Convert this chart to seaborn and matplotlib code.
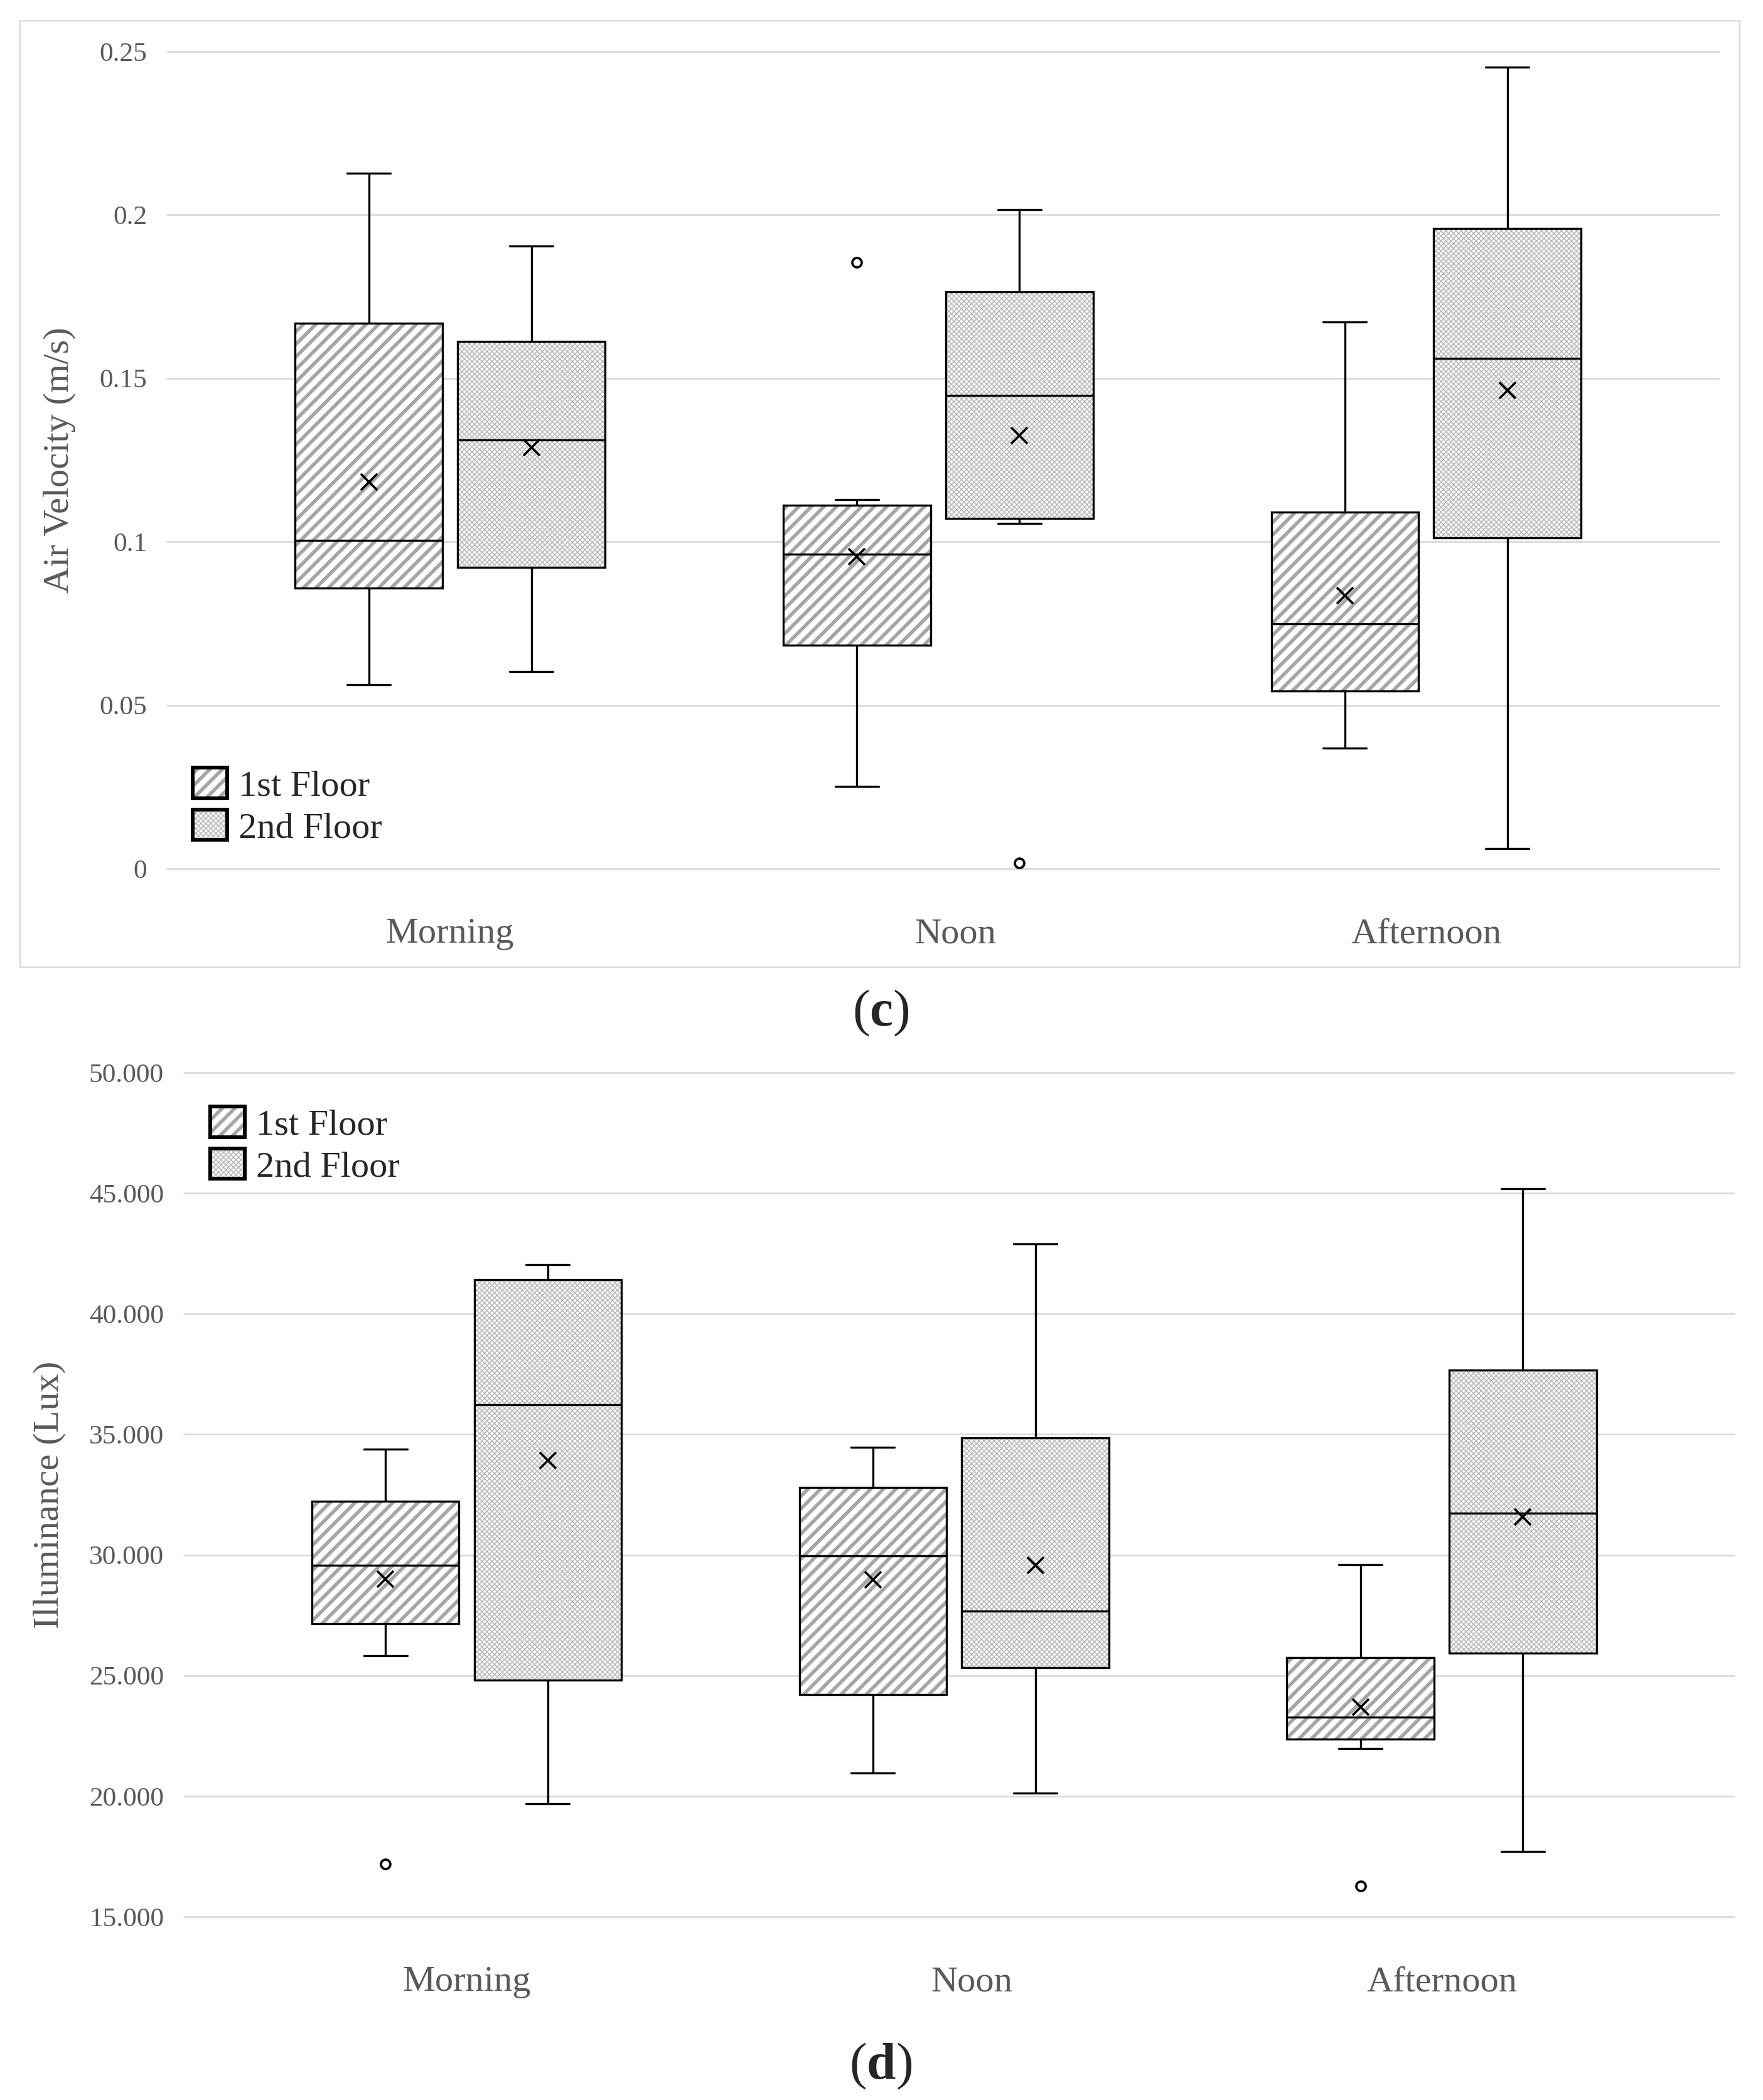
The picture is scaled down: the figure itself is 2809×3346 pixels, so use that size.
import matplotlib
matplotlib.use("Agg")
import matplotlib.pyplot as plt
import numpy as np
import pandas as pd
import seaborn as sns
from matplotlib.patches import Patch, PathPatch, Rectangle
from matplotlib.legend_handler import HandlerTuple
from matplotlib.ticker import FixedLocator, FuncFormatter
from matplotlib.transforms import ScaledTranslation

PERIODS = ["Morning", "Noon", "Afternoon"]
FLOORS = ["1st Floor", "2nd Floor"]

# air velocity samples (m/s), read so that quartiles / whiskers / means match the boxes
air_morning_1st = [0.0563, 0.070, 0.0859, 0.093, 0.1004, 0.108, 0.1669, 0.1706, 0.2127]
air_morning_2nd = [0.0602, 0.080, 0.0922, 0.118, 0.1312, 0.150, 0.1612, 0.176, 0.1904]
air_noon_1st = [0.0251, 0.060, 0.0684, 0.092, 0.0961, 0.1083, 0.1112, 0.1129, 0.1855]
air_noon_2nd = [0.0018, 0.1055, 0.1071, 0.128, 0.1447, 0.150, 0.1765, 0.1773, 0.2016]
air_afternoon_1st = [0.0369, 0.045, 0.0543, 0.065, 0.0749, 0.088, 0.1090, 0.1111, 0.1673]
air_afternoon_2nd = [0.0061, 0.090, 0.1012, 0.140, 0.1561, 0.172, 0.1959, 0.2103, 0.2451]

# illuminance samples (lux)
lux_morning_1st = [17190, 25830, 27160, 29400, 29570, 31800, 32230, 33350, 34380]
lux_morning_2nd = [19680, 23000, 24810, 36000, 36230, 40300, 41420, 41720, 42030]
lux_noon_1st = [20960, 24000, 24200, 29000, 29970, 32000, 32800, 33430, 34460]
lux_noon_2nd = [20120, 23000, 25320, 26500, 27670, 30000, 34860, 35760, 42900]
lux_afternoon_1st = [16260, 21970, 22350, 22800, 23280, 24600, 25740, 26700, 29600]
lux_afternoon_2nd = [17700, 23000, 25930, 29000, 31720, 34500, 37670, 39410, 45200]

air_ticks = [0, 0.05, 0.1, 0.15, 0.2, 0.25]
lux_ticks = [15000, 20000, 25000, 30000, 35000, 40000, 45000, 50000]

HATCH = {"1st Floor": "////", "2nd Floor": "xxxxxxxxxx"}
HATCH_LW = {"1st Floor": 1.7, "2nd Floor": 0.45}
HATCH_COLOR = {"1st Floor": "#a6a6a6", "2nd Floor": "#b4b4b4"}
TEXT_GRAY = "#595959"
GRID_GRAY = "#d9d9d9"


def to_frame(groups):
    rows = []
    for (period, floor), values in groups.items():
        for v in values:
            rows.append({"period": period, "floor": floor, "value": v})
    return pd.DataFrame(rows)


def style_hatch(p, floor):
    p.set_facecolor("white")
    p.set_edgecolor(HATCH_COLOR[floor])
    p.set_hatch(HATCH[floor])
    p.set_linewidth(0)
    if hasattr(p, "set_hatch_linewidth"):
        p.set_hatch_linewidth(HATCH_LW[floor])


def draw_panel(ax, df, ylim, yticks, fmt, ylabel, ylabel_x, leg_loc, leg_anchor):
    sns.boxplot(data=df, x="period", y="value", hue="floor",
                order=PERIODS, hue_order=FLOORS, palette=["white", "white"],
                width=0.666, gap=0.093, whis=1.5, linewidth=1.0, linecolor="black",
                showmeans=True,
                meanprops=dict(marker="x", markeredgecolor="black", markerfacecolor="black",
                               markersize=8, markeredgewidth=1.1),
                flierprops=dict(marker="o", markerfacecolor="white", markeredgecolor="black",
                                markersize=4.5, markeredgewidth=1.1),
                legend=False, ax=ax)

    # hatch the boxes in gray and redraw a black outline on top
    box_w = None
    for p in [p for p in ax.patches if isinstance(p, PathPatch)]:
        xs = p.get_path().vertices[:, 0]
        xc = (xs.min() + xs.max()) / 2
        box_w = xs.max() - xs.min()
        floor = FLOORS[0] if xc < round(xc) else FLOORS[1]
        style_hatch(p, floor)
        ax.add_patch(PathPatch(p.get_path(), transform=p.get_transform(),
                               facecolor="none", edgecolor="black", linewidth=1.0,
                               zorder=p.get_zorder() + 0.01))

    # narrower whisker caps, like the original
    for ln in ax.lines:
        x = np.asarray(ln.get_xdata(), float)
        y = np.asarray(ln.get_ydata(), float)
        if x.size == 2 and y[0] == y[1] and 0 < x[1] - x[0] < 0.8 * box_w:
            c = x.mean()
            ln.set_xdata([c - 0.147 * box_w, c + 0.147 * box_w])

    ax.set_xlim(-0.58, 2.60)
    ax.set_ylim(*ylim)
    ax.yaxis.set_major_locator(FixedLocator(yticks))
    ax.yaxis.set_major_formatter(FuncFormatter(fmt))
    ax.grid(axis="y", color=GRID_GRAY, linewidth=0.8)
    ax.grid(axis="x", visible=False)
    for gl in ax.get_ygridlines():
        gl.set_clip_on(False)
    ax.set_axisbelow(True)
    for s in ax.spines.values():
        s.set_visible(False)
    ax.tick_params(axis="both", length=0, labelcolor=TEXT_GRAY)
    ax.tick_params(axis="y", labelsize=13, pad=9.6)
    ax.tick_params(axis="x", labelsize=17.5, pad=23.5)
    ax.set_xlabel("")
    ax.set_ylabel(ylabel, fontsize=17.5, color=TEXT_GRAY)
    ax.yaxis.set_label_coords(ylabel_x, 0.5)

    # Noon label sits a little right of its category in the original
    fig = ax.figure
    noon = ax.get_xticklabels()[1]
    noon.set_transform(noon.get_transform() + ScaledTranslation(28 / 240, 0, fig.dpi_scale_trans))

    handles = []
    for f in FLOORS:
        hp = Patch()
        style_hatch(hp, f)
        op = Patch(facecolor="none", edgecolor="black", linewidth=1.8)
        handles.append((hp, op))
    leg = ax.legend(handles, FLOORS, handler_map={tuple: HandlerTuple(ndivide=1)},
                    loc=leg_loc, bbox_to_anchor=leg_anchor, frameon=False, fontsize=17.5,
                    handlelength=0.95, handleheight=0.91, handletextpad=0.3,
                    labelspacing=0.175, borderpad=0, borderaxespad=0)
    # legend copies of the patches lose the per-artist hatch width
    for lp in leg.findobj(Patch):
        for f in FLOORS:
            if lp.get_hatch() == HATCH[f]:
                style_hatch(lp, f)


sns.set_style("white")
plt.rcParams["font.family"] = ["Liberation Serif", "DejaVu Serif"]
plt.rcParams["mathtext.fontset"] = "custom"
plt.rcParams["mathtext.rm"] = "Liberation Serif"
plt.rcParams["mathtext.bf"] = "Liberation Serif:bold"
plt.rcParams["hatch.linewidth"] = 1.7

air_df = to_frame({
    ("Morning", "1st Floor"): air_morning_1st, ("Morning", "2nd Floor"): air_morning_2nd,
    ("Noon", "1st Floor"): air_noon_1st, ("Noon", "2nd Floor"): air_noon_2nd,
    ("Afternoon", "1st Floor"): air_afternoon_1st, ("Afternoon", "2nd Floor"): air_afternoon_2nd,
})
lux_df = to_frame({
    ("Morning", "1st Floor"): lux_morning_1st, ("Morning", "2nd Floor"): lux_morning_2nd,
    ("Noon", "1st Floor"): lux_noon_1st, ("Noon", "2nd Floor"): lux_noon_2nd,
    ("Afternoon", "1st Floor"): lux_afternoon_1st, ("Afternoon", "2nd Floor"): lux_afternoon_2nd,
})

fig = plt.figure(figsize=(2809 / 240, 3346 / 240), dpi=240)
fig.patch.set_facecolor("white")

ax1 = fig.add_axes([0.0947, 0.5864, 0.8804, 0.3891])
ax2 = fig.add_axes([0.1043, 0.0873, 0.8793, 0.4019])

draw_panel(ax1, air_df, (0, 0.25), air_ticks, lambda v, pos: f"{v:g}",
           "Air Velocity (m/s)", -0.0586, "lower left", (0.0166, 0.029))
draw_panel(ax2, lux_df, (15000, 50000), lux_ticks,
           lambda v, pos: f"{v:,.0f}".replace(",", "."),
           "Illuminance (Lux)", -0.076, "upper left", (0.017, 0.960))

# light frame around panel (c)
fig.add_artist(Rectangle((0.0114, 0.5395), 0.9754, 0.4506, transform=fig.transFigure,
                         facecolor="none", edgecolor=GRID_GRAY, linewidth=0.7))

fig.text(0.4995, 0.5175, r"($\mathbf{c}$)", ha="center", va="center", fontsize=25)
fig.text(0.4995, 0.0160, r"($\mathbf{d}$)", ha="center", va="center", fontsize=25)

fig.savefig("out.png", dpi=240)
